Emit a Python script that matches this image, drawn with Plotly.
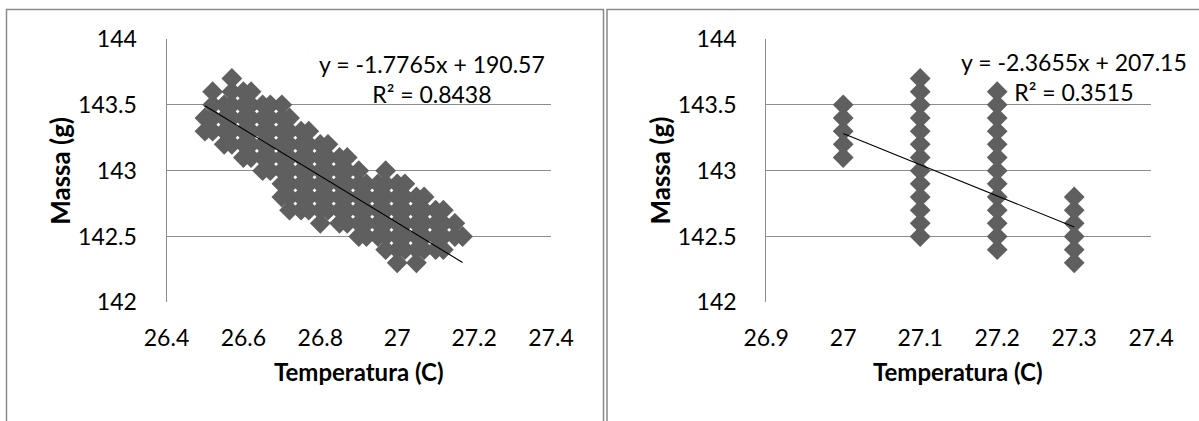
import plotly.graph_objects as go

W, H = 1199, 421

# ---------------- data ----------------
# Left chart: temperature columns and the lowest / highest mass reading in each column
left_temp = [26.50, 26.52, 26.55, 26.57, 26.60, 26.62, 26.65, 26.67, 26.70, 26.72,
             26.75, 26.77, 26.80, 26.82, 26.85, 26.87, 26.90, 26.92, 26.95, 26.97,
             27.00, 27.02, 27.05, 27.07, 27.10, 27.12, 27.15, 27.17]
left_mass_low = [143.3, 143.3, 143.2, 143.2, 143.1, 143.1, 143.0, 143.0, 142.8, 142.7,
                 142.7, 142.7, 142.6, 142.7, 142.6, 142.6, 142.5, 142.5, 142.5, 142.4,
                 142.3, 142.4, 142.3, 142.4, 142.4, 142.4, 142.5, 142.5]
left_mass_high = [143.4, 143.6, 143.5, 143.7, 143.6, 143.6, 143.5, 143.5, 143.5, 143.4,
                  143.3, 143.3, 143.2, 143.2, 143.1, 143.1, 143.0, 142.9, 142.9, 143.0,
                  142.9, 142.9, 142.8, 142.8, 142.7, 142.7, 142.6, 142.5]

# Right chart: temperature columns and mass range in each column
right_temp = [27.0, 27.1, 27.2, 27.3]
right_mass_low = [143.1, 142.5, 142.4, 142.3]
right_mass_high = [143.5, 143.7, 143.6, 142.8]

# Trendlines (as labelled on the chart)
left_slope, left_intercept, left_r2 = -1.7765, 190.57, 0.8438
right_slope, right_intercept, right_r2 = -2.3655, 207.15, 0.3515

x_ticks_left = [26.4, 26.6, 26.8, 27.0, 27.2, 27.4]
x_ticks_right = [26.9, 27.0, 27.1, 27.2, 27.3, 27.4]
y_ticks = [142, 142.5, 143, 143.5, 144]


def expand(temps, lows, highs):
    xs, ys = [], []
    for t, lo, hi in zip(temps, lows, highs):
        n = int(round((hi - lo) / 0.1))
        for k in range(n + 1):
            xs.append(t)
            ys.append(round(lo + 0.1 * k, 1))
    return xs, ys


lx, ly = expand(left_temp, left_mass_low, left_mass_high)
rx, ry = expand(right_temp, right_mass_low, right_mass_high)

FONT = "Lato"
MARKER = "#5f5f5f"
GRID = "#8c8c8c"

fig = go.Figure()

fig.add_trace(go.Scatter(x=lx, y=ly, mode="markers", xaxis="x", yaxis="y",
                         marker=dict(symbol="diamond", size=16, color=MARKER, line=dict(width=0)),
                         showlegend=False, hoverinfo="skip"))
lxe = [min(lx), max(lx)]
fig.add_trace(go.Scatter(x=lxe, y=[left_slope * v + left_intercept for v in lxe], mode="lines",
                         xaxis="x", yaxis="y", line=dict(color="black", width=1.1),
                         showlegend=False, hoverinfo="skip"))

fig.add_trace(go.Scatter(x=rx, y=ry, mode="markers", xaxis="x2", yaxis="y2",
                         marker=dict(symbol="diamond", size=16, color=MARKER, line=dict(width=0)),
                         showlegend=False, hoverinfo="skip"))
rxe = [min(rx), max(rx)]
fig.add_trace(go.Scatter(x=rxe, y=[right_slope * v + right_intercept for v in rxe], mode="lines",
                         xaxis="x2", yaxis="y2", line=dict(color="black", width=1.1),
                         showlegend=False, hoverinfo="skip"))

plot_top, plot_bot = 39, 302.3
ydom = [1 - plot_bot / H, 1 - plot_top / H]
L = (166.5, 551.0)
R = (766.2, 1151.2)

xcommon = dict(showgrid=False, zeroline=False, showline=False, ticks="", automargin=False,
               tickfont=dict(family=FONT, size=23, color="#000"), ticklabelstandoff=20)
ycommon = dict(showgrid=True, gridcolor=GRID, gridwidth=1, zeroline=False, showline=True,
               linecolor=GRID, linewidth=1, ticks="", automargin=False, range=[142, 144],
               tickvals=y_ticks, domain=ydom, ticklabelstandoff=24,
               tickfont=dict(family=FONT, size=23, color="#000"))
fig.update_layout(
    width=W, height=H, margin=dict(l=0, r=0, t=0, b=0, autoexpand=False),
    paper_bgcolor="white", plot_bgcolor="white",
    xaxis=dict(domain=[L[0] / W, L[1] / W], range=[26.4, 27.4], tickvals=x_ticks_left,
               anchor="y", **xcommon),
    yaxis=dict(anchor="x", **ycommon),
    xaxis2=dict(domain=[R[0] / W, R[1] / W], range=[26.9, 27.4], tickvals=x_ticks_right,
                anchor="y2", **xcommon),
    yaxis2=dict(anchor="x2", **ycommon),
)

annots = []
def txt(x, y, s, size=23, bold=False, angle=0):
    annots.append(dict(x=x / W, y=1 - y / H, xref="paper", yref="paper", text=s,
                       showarrow=False, xanchor="center", yanchor="middle", textangle=angle,
                       align="center",
                       font=dict(family=FONT, size=size, color="#000",
                                 weight="bold" if bold else "normal")))

for off in (0, 599.7):
    txt(358.7 + off, 371.5, "Temperatura (C)", size=24, bold=True)
    txt(59.3 + off, 170.5, "Massa (g)", size=26, bold=True, angle=-90)

txt(431.5, 78.5, f"y = {left_slope}x + {left_intercept}<br>R² = {left_r2}")
txt(1074, 77, f"y = {right_slope}x + {right_intercept}<br>R² = {right_r2}")
fig.update_layout(annotations=annots)

# chart-area frames
fig.add_shape(type="rect", xref="paper", yref="paper", x0=6.5 / W, x1=603.5 / W,
              y0=-0.1, y1=1 - 9.5 / H, line=dict(color="#8a8a8a", width=1.5))
fig.add_shape(type="rect", xref="paper", yref="paper", x0=607 / W, x1=1.1,
              y0=-0.1, y1=1 - 9.5 / H, line=dict(color="#8a8a8a", width=1.5))

fig.write_html("out.html", config={"displayModeBar": False},
               post_script="document.body.style.margin='0px';document.body.style.padding='0px';")
